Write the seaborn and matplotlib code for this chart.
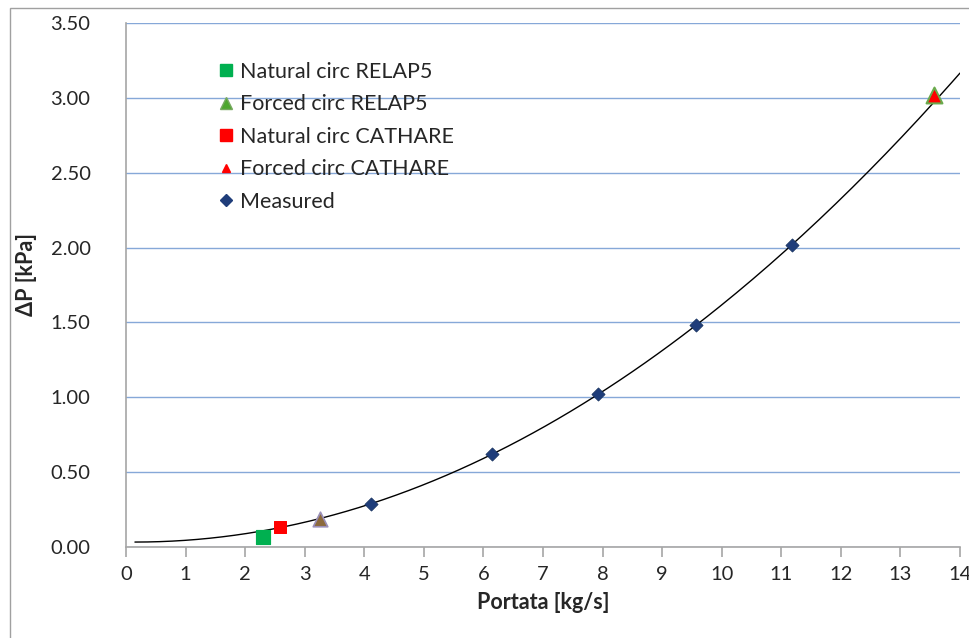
import numpy as np
import matplotlib
matplotlib.use('Agg')
import matplotlib.pyplot as plt
import seaborn as sns
from matplotlib.patches import Rectangle
from matplotlib.lines import Line2D

# --- data ---
meas_x = [4.12, 6.15, 7.92, 9.57, 11.18]
meas_y = [0.29, 0.62, 1.02, 1.48, 2.02]

nat_relap_x = [2.30]
nat_relap_y = [0.067]
nat_cath_x = [2.585]
nat_cath_y = [0.134]
forced_relap_x = [3.26, 13.56]
forced_relap_y = [0.187, 3.02]
forced_cath_x = [3.26, 13.56]
forced_cath_y = [0.187, 3.02]

x_ticks = list(range(0, 15))
y_ticks = [0.0, 0.5, 1.0, 1.5, 2.0, 2.5, 3.0, 3.5]

sns.set_style('white')
plt.rcParams['font.family'] = ['Lato', 'DejaVu Sans']

fig = plt.figure(figsize=(9.7, 6.38), dpi=100)
ax = fig.add_axes([126/970, 91/638, 834/970, 524/638])

# chart border like the Excel frame
fig.patches.append(Rectangle((10/970, -0.1), 1.2, (638-8)/638 + 0.1,
                             transform=fig.transFigure, fill=False,
                             edgecolor='#A0A0A0', linewidth=1.0))

# polynomial trendline (2nd order) of measured data
coef = np.polyfit(meas_x, meas_y, 2)
xs = np.linspace(0.15, 14, 200)
ax.plot(xs, np.polyval(coef, xs), color='black', linewidth=1.0, zorder=2)

sns.scatterplot(x=nat_relap_x, y=nat_relap_y, marker='s', s=110, color='#00B050',
                edgecolor='#00B050', ax=ax, zorder=3)
sns.scatterplot(x=forced_relap_x[:1], y=forced_relap_y[:1], marker='^', s=110, color='#8C6A3C',
                edgecolor='#9A8FB8', linewidth=1.2, ax=ax, zorder=3)
sns.scatterplot(x=nat_cath_x, y=nat_cath_y, marker='s', s=80, color='#FF0000',
                edgecolor='#FF0000', ax=ax, zorder=3)
sns.scatterplot(x=forced_relap_x[1:], y=forced_relap_y[1:], marker='^', s=130, color='#FF0000',
                edgecolor='#6AAA4C', linewidth=1.5, ax=ax, zorder=3)
sns.scatterplot(x=forced_cath_x[1:], y=forced_cath_y[1:], marker='^', s=40, color='#FF0000',
                edgecolor='#FF0000', ax=ax, zorder=4)
sns.scatterplot(x=meas_x, y=meas_y, marker='D', s=45, color='#1F3D7A',
                edgecolor='#17325F', ax=ax, zorder=4)

# legend proxies in the original order
handles = [
    Line2D([], [], linestyle='', marker='s', markersize=9, color='#00B050'),
    Line2D([], [], linestyle='', marker='^', markersize=9, color='#4EA72E',
           markeredgecolor='#77A960'),
    Line2D([], [], linestyle='', marker='s', markersize=8, color='#FF0000'),
    Line2D([], [], linestyle='', marker='^', markersize=6, color='#FF0000'),
    Line2D([], [], linestyle='', marker='D', markersize=6, color='#1F3D7A'),
]
labels = ['Natural circ RELAP5', 'Forced circ RELAP5', 'Natural circ CATHARE',
          'Forced circ CATHARE', 'Measured']
ax.legend(handles, labels, loc='upper left', bbox_to_anchor=(0.091, 0.951),
          frameon=False, fontsize=15.5, handletextpad=0.15, labelspacing=0.58,
          handlelength=1.0, borderaxespad=0.2)

ax.set_xlim(0, 14)
ax.set_ylim(0, 3.5)
ax.set_xticks(x_ticks)
ax.set_yticks(y_ticks)
ax.set_yticklabels([f'{v:.2f}' for v in y_ticks])
ax.yaxis.grid(True, color='#86A8D8', linewidth=1.0)
ax.set_axisbelow(True)
for s in ['top', 'right']:
    ax.spines[s].set_visible(False)
for s in ['left', 'bottom']:
    ax.spines[s].set_color('#A6A6A6')
    ax.spines[s].set_linewidth(1.2)
ax.tick_params(axis='x', which='major', direction='out', length=7, width=1.2,
               color='#A6A6A6', labelsize=14.5, pad=7, bottom=True)
ax.tick_params(axis='y', left=False, labelsize=14.5, pad=22)

ax.set_xlabel('Portata [kg/s]', fontsize=15.5, fontweight='bold', labelpad=6)
ax.set_ylabel('ΔP [kPa]', fontsize=15.5, fontweight='bold')
ax.yaxis.set_label_coords(-0.107, 0.52)

fig.savefig('out.png', dpi=100)
